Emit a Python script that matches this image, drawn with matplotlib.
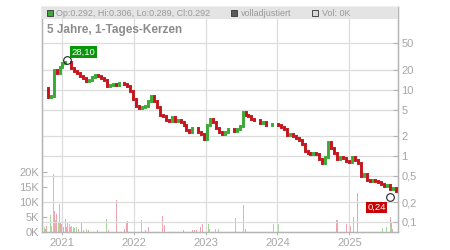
import matplotlib
matplotlib.use("Agg")
import matplotlib.pyplot as plt
import matplotlib.dates as mdates
from matplotlib.patches import Rectangle
import numpy as np
import pandas as pd

plt.rcParams['font.family'] = ['Liberation Sans', 'DejaVu Sans']

# ---- data ----
start_date = "2020-09-21"
step = "15D"
closes = [10.5, 10.5, 7.8, 8.0, 20.0, 18.0, 22.0, 25.0, 26.0, 26.5,
          21.0, 19.0, 18.0, 16.0, 15.0, 13.5, 14.0, 15.5, 16.8, 16.0,
          15.0, 14.0, 11.2, 11.6, 12.0, 11.8, 12.5, 12.6, 12.2, 11.5,
          9.5, 7.3, 5.7, 5.2, 5.4, 5.7, 6.8, 7.9, 6.8, 5.4,
          4.2, 4.0, 3.45, 3.4, 3.8, 3.35, 3.5, 3.25, 2.9, 2.45,
          2.25, 2.6, 2.6, 2.3, 2.1, 1.8, 2.9, 3.6, 3.2, 2.6,
          2.25, 2.15, 2.3, 2.55, 2.5, 2.4, 2.5, 2.8, 4.6, 4.2,
          4.0, 3.6, 3.5, 3.5, 3.1, 3.2, 2.9, 2.9, 3.05, 3.0,
          2.9, 2.75, 2.5, 2.05, 2.1, 2.0, 1.85, 1.75, 1.5, 1.2,
          1.12, 1.08, 1.12, 1.05, 0.9, 0.78, 0.95, 1.6, 1.3, 1.12,
          0.9, 0.95, 0.92, 0.84, 0.8, 0.95, 0.85, 0.78, 0.5, 0.54,
          0.43, 0.42, 0.43, 0.41, 0.40, 0.37, 0.35, 0.36, 0.32, 0.33,
          0.292]

vol_dates = ["2020-09-20", "2020-09-27", "2020-10-03", "2020-10-10", "2020-10-14",
             "2020-11-02", "2020-11-09", "2020-11-18", "2020-11-23", "2020-11-28",
             "2020-12-07", "2020-12-13", "2020-12-20", "2020-12-25", "2020-12-31",
             "2021-01-05", "2021-01-10", "2021-01-18", "2021-01-25", "2021-02-01",
             "2021-02-08", "2021-02-13", "2021-02-20", "2021-02-28", "2021-03-08",
             "2021-03-18", "2021-03-25", "2021-04-13", "2021-04-23", "2021-05-08",
             "2021-05-18", "2021-06-03", "2021-07-03", "2021-08-18", "2021-08-26",
             "2021-10-03", "2021-11-13", "2021-11-23", "2021-11-28", "2022-02-07",
             "2022-02-28", "2022-03-15", "2022-05-28", "2022-06-07", "2022-09-10",
             "2022-10-28", "2022-11-05", "2022-11-15", "2022-12-08", "2022-12-16",
             "2023-01-08", "2023-01-14", "2023-01-21", "2023-02-21", "2023-03-10",
             "2023-06-02", "2023-07-15", "2023-07-21", "2023-12-14", "2024-01-07",
             "2024-10-26", "2024-10-30", "2024-12-18", "2025-01-07", "2025-01-22",
             "2025-02-13", "2025-06-18", "2025-07-08", "2025-07-27", "2025-07-30",
             "2025-08-05", "2025-08-10"]
vol_values = [1500, 3700, 1500, 1000, 2000,
              5700, 2000, 19300, 7000, 4000,
              6000, 3000, 9300, 3000, 2500,
              2000, 1500, 4300, 1500, 3000,
              2500, 1500, 2000, 1500, 1200,
              1500, 1000, 3100, 800, 1000,
              800, 800, 800, 4300, 800,
              10700, 1000, 3100, 3500, 4000,
              800, 1500, 5300, 2300, 500,
              500, 500, 600, 1500, 2700,
              2500, 2500, 1000, 1000, 1000,
              4600, 9000, 1000, 2500, 2500,
              4000, 4000, 2600, 2000, 5000,
              12900, 1400, 1500, 5000, 2000,
              3000, 1000]
vol_up = [0, 0, 1, 0, 0,
          1, 1, 1, 0, 1,
          0, 1, 1, 0, 0,
          0, 0, 1, 0, 1,
          1, 0, 1, 1, 1,
          1, 0, 0, 1, 1,
          0, 0, 0, 1, 0,
          0, 0, 0, 0, 1,
          0, 0, 0, 0, 0,
          0, 0, 0, 0, 0,
          1, 1, 0, 1, 1,
          1, 1, 0, 1, 1,
          0, 0, 0, 0, 1,
          0, 1, 1, 0, 1,
          0, 0]

high_date, high_value, high_label = "2021-01-28", 28.10, "28,10"
low_date, low_value, low_label = "2025-07-27", 0.24, "0,24"

price_ticks = [0.1, 0.2, 0.5, 1, 2, 5, 10, 20, 50]
price_tick_labels = ["0,1", "0,2", "0,5", "1", "2", "5", "10", "20", "50"]
vol_ticks = [0, 5000, 10000, 15000, 20000]
vol_tick_labels = ["0K", "5K", "10K", "15K", "20K"]
year_ticks = ["2021-01-01", "2022-01-01", "2023-01-01", "2024-01-01", "2025-01-01"]
year_labels = ["2021", "2022", "2023", "2024", "2025"]

header_text = "Op:0.292, Hi:0.306, Lo:0.289, Cl:0.292"
title_text = "5 Jahre, 1-Tages-Kerzen"

# ---- figure ----
W, H = 450, 250
fig = plt.figure(figsize=(4.5, 2.5), dpi=100)
L, R, B, T = 41.6, 397.7, 232.0, 7.0
axv = fig.add_axes([L / W, 1 - B / H, (R - L) / W, (B - T) / H])
ax = axv.twinx()

GRID = '#dcdcdc'
TXT = '#a6a6a6'
SPINE = '#b4b4b4'
UP = '#3aa935'
DOWN = '#c3161c'
VUP = '#a5d99b'
VDN = '#eea3ad'

dates = pd.date_range(start_date, periods=len(closes), freq=step)
c = np.array(closes)
o = np.concatenate([[c[0]], c[:-1]])
lo = np.minimum(o, c)
hi = np.maximum(o, c)
cols = [UP if cc >= oo else DOWN for oo, cc in zip(o, c)]

ax.set_yscale('log')
ax.set_ylim(0.0706, 176.7)
x0 = mdates.date2num(pd.Timestamp("2020-09-20"))
x1 = mdates.date2num(pd.Timestamp("2025-09-03"))
ax.set_xlim(x0, x1)
axv.set_xlim(x0, x1)
axv.set_ylim(0, 74600)

# grid
for yt in price_ticks:
    ax.axhline(yt, color=GRID, lw=0.9, zorder=0)
for d in year_ticks:
    ax.axvline(mdates.date2num(pd.Timestamp(d)), color=GRID, lw=0.9, zorder=0)

# volume
vd = mdates.date2num(pd.to_datetime(vol_dates))
axv.bar(vd, vol_values, width=5, color=[VUP if u else VDN for u in vol_up],
        linewidth=0, zorder=2)

# candles
dn = mdates.date2num(dates)
ax.vlines(dn, lo, hi, colors=cols, linewidths=2.1, capstyle='projecting', zorder=3)

# markers for high and low
hd = mdates.date2num(pd.Timestamp(high_date))
ld = mdates.date2num(pd.Timestamp(low_date))
ax.plot([hd], [high_value], marker='o', ms=5.5, mfc='none', mec='#222222', mew=0.8, zorder=5)
ax.plot([ld], [low_value], marker='o', ms=5.5, mfc='none', mec='#222222', mew=0.8, zorder=5)
ax.annotate(high_label, (hd, high_value), xytext=(3.2, 2.5), textcoords='offset points',
            ha='left', va='bottom', color='white', fontsize=6.8,
            bbox=dict(boxstyle='square,pad=0.15', fc='#0a960a', ec='none'), zorder=6)
ax.annotate(low_label, (ld, low_value), xytext=(-3.2, -4.5), textcoords='offset points',
            ha='right', va='top', color='white', fontsize=6.8,
            bbox=dict(boxstyle='square,pad=0.15', fc='#cc0000', ec='none'), zorder=6)

# axes styling
for a in (ax, axv):
    for s in a.spines.values():
        s.set_color(SPINE)
        s.set_linewidth(0.9)
ax.spines['top'].set_color('#c8c8c8')

ax.yaxis.set_major_locator(matplotlib.ticker.FixedLocator(price_ticks))
ax.yaxis.set_minor_locator(matplotlib.ticker.NullLocator())
ax.set_yticks(price_ticks)
ax.set_yticklabels(price_tick_labels)
ax.tick_params(axis='y', which='both', direction='in', length=3.5, width=0.8,
               color=SPINE, labelcolor=TXT, labelsize=8, pad=2.5)
ax.tick_params(axis='y', which='minor', length=0)

axv.set_yticks(vol_ticks)
axv.set_yticklabels(vol_tick_labels)
axv.tick_params(axis='y', direction='in', length=3.5, width=0.8, color=SPINE,
                labelcolor=TXT, labelsize=8, pad=2)

axv.set_xticks(mdates.date2num(pd.to_datetime(year_ticks)))
axv.set_xticklabels(year_labels)
axv.tick_params(axis='x', direction='out', length=2.5, width=0.8, color=SPINE,
                labelcolor=TXT, labelsize=8, pad=1.5)
ax.tick_params(axis='x', length=0)

# header band
ax_h = 1 - 12 / (B - T)
ax.add_patch(Rectangle((0, ax_h), 1, 1 - ax_h, transform=ax.transAxes,
                       fc='#e4e4e4', ec='none', zorder=7, clip_on=False))
yh = 1 - 6 / (B - T)
def px(xp):
    return (xp - L) / (R - L)
sq = 6 / (B - T)
sqw = 6 / (R - L)
for xs, fc in ((46.5, '#3aa935'), (231.5, '#5a5a5a'), (312.5, '#d8d8d8')):
    ax.add_patch(Rectangle((px(xs), yh - sq / 2), sqw, sq, transform=ax.transAxes,
                           fc=fc, ec='#333333', lw=0.6, zorder=8, clip_on=False))
ax.text(px(56), yh, header_text, transform=ax.transAxes, ha='left', va='center',
        fontsize=6.5, color='#9a9a9a', zorder=9)
ax.text(px(241), yh, "volladjustiert", transform=ax.transAxes, ha='left', va='center',
        fontsize=6.5, color='#9a9a9a', zorder=9)
ax.text(px(322), yh, "Vol: 0K", transform=ax.transAxes, ha='left', va='center',
        fontsize=6.5, color='#9a9a9a', zorder=9)
ax.text(px(47), 1 - 23 / (B - T), title_text, transform=ax.transAxes, ha='left',
        va='center', fontsize=8.5, fontweight='bold', color='#8c8c8c', zorder=9)

fig.savefig("out.png", dpi=100)
